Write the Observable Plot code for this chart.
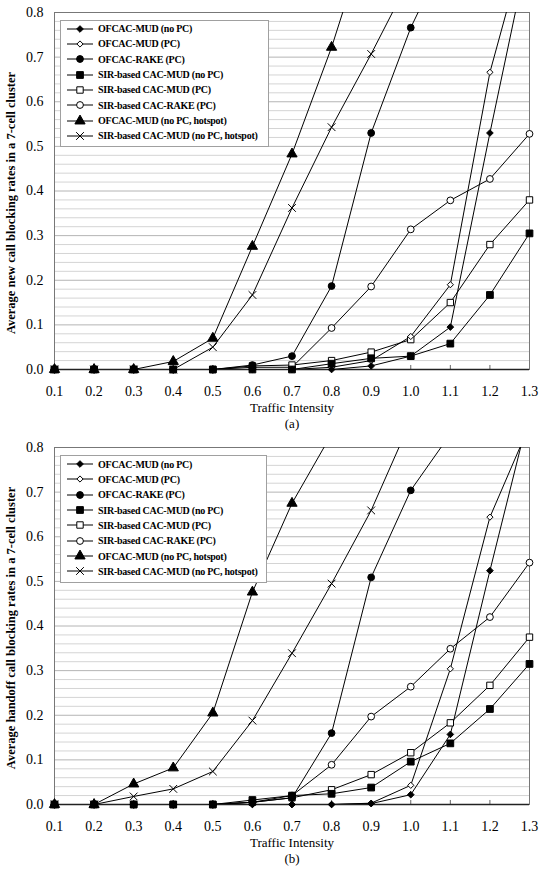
<!DOCTYPE html>
<html>
<head>
<meta charset="utf-8">
<script src="https://cdn.jsdelivr.net/npm/d3@7"></script>
<script src="https://cdn.jsdelivr.net/npm/@observablehq/plot@0.6"></script>
<style>
  body { margin: 0; background: #fff; }
  .panel { position: relative; width: 539px; }
  .panel svg { display: block; }
  .legend {
    position: absolute; background: #fff; border: 1px solid #a0a0a0;
    box-sizing: border-box; font-family: "Liberation Serif", "Times New Roman", serif;
    font-weight: bold; font-size: 10px; letter-spacing: -0.25px; color: #000;
  }
  .legend .row { position: absolute; left: 0; height: 14px; display: flex; align-items: center; white-space: nowrap; }
  .legend .row svg { display: block; margin-left: 5px; margin-right: 4px; }
</style>
</head>
<body>
<div id="chart"></div>
<script>
// ---------- data ----------
const intensity = [0.1, 0.2, 0.3, 0.4, 0.5, 0.6, 0.7, 0.8, 0.9, 1.0, 1.1, 1.2, 1.3];
const xTickLabels = ["0.1","0.2","0.3","0.4","0.5","0.6","0.7","0.8","0.9","1.0","1.1","1.2","1.3"];
const yTicks = [0, 0.1, 0.2, 0.3, 0.4, 0.5, 0.6, 0.7, 0.8];
const seriesNames = [
  "OFCAC-MUD (no PC)",
  "OFCAC-MUD (PC)",
  "OFCAC-RAKE (PC)",
  "SIR-based CAC-MUD (no PC)",
  "SIR-based CAC-MUD (PC)",
  "SIR-based CAC-RAKE (PC)",
  "OFCAC-MUD (no PC, hotspot)",
  "SIR-based CAC-MUD (no PC, hotspot)"
];

// (a) new call blocking
const aOfcacMudNoPC   = [0, 0, 0, 0, 0, 0, 0, 0, 0.008, 0.03, 0.095, 0.53, 0.95];
const aOfcacMudPC     = [0, 0, 0, 0, 0, 0, 0, 0.005, 0.02, 0.074, 0.19, 0.666, 0.99];
const aOfcacRakePC    = [0, 0, 0, 0, 0, 0.01, 0.03, 0.187, 0.53, 0.766, 0.95];
const aSirMudNoPC     = [0, 0, 0, 0, 0, 0, 0, 0.013, 0.025, 0.03, 0.058, 0.167, 0.305];
const aSirMudPC       = [0, 0, 0, 0, 0, 0.008, 0.01, 0.02, 0.039, 0.067, 0.15, 0.28, 0.38];
const aSirRakePC      = [0, 0, 0, 0, 0, 0.005, 0.005, 0.093, 0.186, 0.314, 0.379, 0.427, 0.528];
const aOfcacHotspot   = [0, 0, 0, 0.018, 0.07, 0.276, 0.483, 0.722, 1.0];
const aSirHotspot     = [0, 0, 0, 0, 0.05, 0.167, 0.362, 0.543, 0.707, 0.88];

// (b) handoff call blocking
const bOfcacMudNoPC   = [0, 0, 0, 0, 0, 0, 0, 0, 0.002, 0.022, 0.157, 0.524, 0.88];
const bOfcacMudPC     = [0, 0, 0, 0, 0, 0, 0, 0, 0.003, 0.043, 0.304, 0.644, 0.85];
const bOfcacRakePC    = [0, 0, 0, 0, 0, 0.005, 0.015, 0.16, 0.509, 0.704, 0.83];
const bSirMudNoPC     = [0, 0, 0, 0, 0, 0.01, 0.02, 0.024, 0.038, 0.096, 0.137, 0.214, 0.315];
const bSirMudPC       = [0, 0, 0, 0, 0, 0.005, 0.015, 0.033, 0.067, 0.116, 0.183, 0.267, 0.375];
const bSirRakePC      = [0, 0, 0, 0, 0, 0.005, 0.02, 0.089, 0.197, 0.264, 0.349, 0.42, 0.542];
const bOfcacHotspot   = [0, 0, 0.046, 0.082, 0.205, 0.476, 0.675, 0.83];
const bSirHotspot     = [0, 0, 0.018, 0.035, 0.074, 0.188, 0.339, 0.495, 0.659, 0.86];

const yLabelA = "Average new call blocking rates in a 7-cell cluster";
const yLabelB = "Average handoff call blocking rates in a 7-cell cluster";
const xLabel = "Traffic Intensity";

// ---------- styling ----------
const styles = [
  {symbol: "diamond2", d3sym: d3.symbolDiamond2, fill: "black", r: 3.0},
  {symbol: "diamond2", d3sym: d3.symbolDiamond2, fill: "white", r: 2.8},
  {symbol: "circle",   d3sym: d3.symbolCircle,   fill: "black", r: 3.4},
  {symbol: "square",   d3sym: d3.symbolSquare,   fill: "black", r: 3.8},
  {symbol: "square",   d3sym: d3.symbolSquare,   fill: "white", r: 3.6},
  {symbol: "circle",   d3sym: d3.symbolCircle,   fill: "white", r: 3.4},
  {symbol: "triangle", d3sym: d3.symbolTriangle, fill: "black", r: 3.8},
  {symbol: "times",    d3sym: d3.symbolTimes,    fill: "none",  r: 3.6}
];
const drawOrder = [5, 4, 1, 7, 6, 0, 2, 3];
const FONT = '"Liberation Serif", "Times New Roman", serif';

function toRows(values, name) {
  return values.map((v, i) => ({series: name, x: intensity[i], y: v}));
}

function panel(seriesValues, yLabel, caption, cfg) {
  const data = seriesValues.flatMap((vals, i) => toRows(vals, seriesNames[i]));
  const minor = d3.range(0.02, 0.8, 0.02).filter(v => Math.abs(v * 10 - Math.round(v * 10)) > 1e-6);
  const marks = [
    Plot.ruleY(minor, {stroke: "#d4d4d4", strokeWidth: 1}),
    Plot.ruleY(yTicks.slice(1, -1), {stroke: "#b4b4b4", strokeWidth: 1}),
    Plot.ruleX(intensity.slice(1, -1), {x: d => d, y1: 0, y2: 0.009, stroke: "#666"}),
    Plot.frame({stroke: "#777", strokeWidth: 1}),
    Plot.ruleY([0], {stroke: "#222", strokeWidth: 1.5}),
    Plot.axisX(intensity, {tickSize: 0, tickPadding: 17, tickFormat: (d, i) => xTickLabels[i],
      fontSize: 14, fontFamily: FONT, label: null}),
    Plot.axisY(yTicks, {tickSize: 0, tickPadding: 11, tickFormat: d => d.toFixed(1),
      fontSize: 14, fontFamily: FONT, label: null}),
    Plot.line(data, {x: "x", y: "y", z: "series", stroke: "black", strokeWidth: 1, clip: true}),
    ...drawOrder.map(i => Plot.dot(data.filter(d => d.series === seriesNames[i] && d.y <= 0.8), {
      x: "x", y: "y", symbol: () => styles[i].symbol, r: styles[i].r,
      fill: styles[i].fill, stroke: "black", strokeWidth: 1
    })),
    Plot.text([yLabel], {frameAnchor: "left", textAnchor: "middle", rotate: -90, dx: -44, dy: cfg.labelDy,
      fontWeight: "bold", fontSize: 12.5, fontFamily: FONT}),
    Plot.text([xLabel], {frameAnchor: "bottom", textAnchor: "middle", dy: 42, fontSize: 13, fontFamily: FONT}),
    Plot.text([caption], {frameAnchor: "bottom", textAnchor: "middle", dy: 58, fontSize: 13, fontFamily: FONT})
  ];
  const svg = Plot.plot({
    width: 539, height: cfg.height,
    marginTop: cfg.marginTop, marginBottom: cfg.marginBottom, marginLeft: 54, marginRight: 10,
    x: {domain: [0.1, 1.3], axis: null},
    y: {domain: [0, 0.8], axis: null},
    symbol: {type: "identity"},
    style: {fontFamily: FONT, fontSize: "14px", color: "#000", background: "#fff"},
    marks
  });
  const wrap = document.createElement("div");
  wrap.className = "panel";
  wrap.appendChild(svg);

  // legend overlay
  const leg = document.createElement("div");
  leg.className = "legend";
  Object.assign(leg.style, {left: cfg.legend.left + "px", top: cfg.legend.top + "px",
    width: cfg.legend.width + "px", height: cfg.legend.height + "px"});
  seriesNames.forEach((name, i) => {
    const row = document.createElement("div");
    row.className = "row";
    row.style.top = (cfg.legend.firstRow + i * 15.35 - 7) + "px";
    const s = styles[i];
    const path = d3.symbol(s.d3sym, Math.PI * s.r * s.r)();
    row.innerHTML = `<svg width="28" height="14"><line x1="1" x2="27" y1="7" y2="7" stroke="black" stroke-width="1"/>` +
      `<path transform="translate(14,7)" d="${path}" fill="${s.fill}" stroke="black" stroke-width="1"/></svg><span>${name}</span>`;
    leg.appendChild(row);
  });
  wrap.appendChild(leg);
  return wrap;
}

const chart = document.getElementById("chart");
chart.appendChild(panel(
  [aOfcacMudNoPC, aOfcacMudPC, aOfcacRakePC, aSirMudNoPC, aSirMudPC, aSirRakePC, aOfcacHotspot, aSirHotspot],
  yLabelA, "(a)",
  {height: 437, marginTop: 12, marginBottom: 68, labelDy: 12,
   legend: {left: 60, top: 20, width: 209, height: 127, firstRow: 7.5}}
));
chart.appendChild(panel(
  [bOfcacMudNoPC, bOfcacMudPC, bOfcacRakePC, bSirMudNoPC, bSirMudPC, bSirRakePC, bOfcacHotspot, bSirHotspot],
  yLabelB, "(b)",
  {height: 436, marginTop: 10, marginBottom: 69, labelDy: 2,
   legend: {left: 60, top: 18, width: 207, height: 128, firstRow: 8}}
));
</script>
</body>
</html>
